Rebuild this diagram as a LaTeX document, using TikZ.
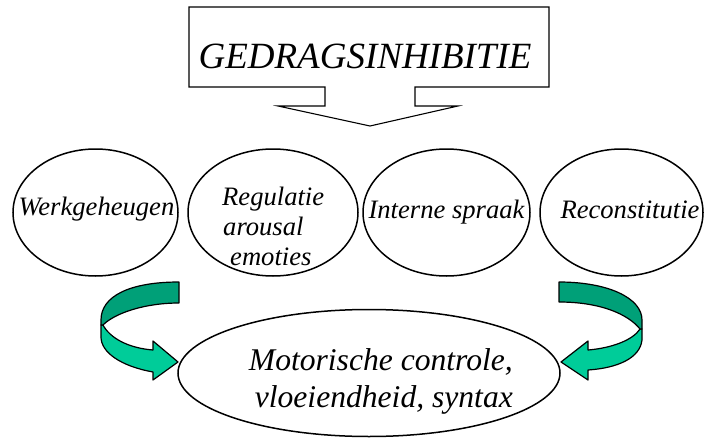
\documentclass[tikz,border=0pt]{standalone}
\usepackage{fontspec}
\setmainfont{Liberation Serif}
\usetikzlibrary{shapes.geometric}
\definecolor{dkgreen}{RGB}{0,160,120}
\definecolor{ltgreen}{RGB}{0,204,153}
\begin{document}
\begin{tikzpicture}[x=1pt,y=-1pt,
  oval/.style={draw, ellipse, line width=1.5pt, minimum height=127pt, inner sep=0pt},
  lbl/.style={font=\fontsize{26.6}{30}\selectfont\itshape, inner sep=0pt},
  bandline/.style={draw=black, line width=1.2pt, line join=round},
  calloutline/.style={draw=black, line width=1.1pt, line join=miter}]
\useasboundingbox (0,0) rectangle (715,439);

% callout
\draw[calloutline] (189,7) -- (549,7) -- (549,87) -- (415,87) -- (415,106) -- (458,106)
  -- (370,126) -- (278,106) -- (325,106) -- (325,87) -- (189,87) -- cycle;
\node[anchor=base, inner sep=0pt, font=\fontsize{37}{40}\selectfont\itshape] (title) at (365,68) {GEDRAGSINHIBITIE};

% four ellipses
\node[oval, minimum width=165pt] (wg) at (95.5,212.5) {};
\node[oval, minimum width=170pt] (ra) at (273,212.5) {};
\node[oval, minimum width=167pt] (is) at (446.5,212.5) {};
\node[oval, minimum width=163pt] (rc) at (621.5,212.5) {};

\node[lbl, anchor=base] (wgt) at (96.5,215) {Werkgeheugen};
\node[lbl, anchor=base west] (rat1) at (222,205) {Regulatie};
\node[lbl, anchor=base west] (rat2) at (223,235) {arousal};
\node[lbl, anchor=base west] (rat3) at (230,265) {emoties};
\node[lbl, anchor=base] (ist) at (446.5,218) {Interne spraak};
\node[lbl, anchor=base] (rct) at (630,218) {Reconstitutie};

% bottom ellipse
\node[oval, minimum width=382pt] (mc) at (369,373) {};
\node[anchor=base east, inner sep=0pt, align=right, font=\fontsize{31.6}{37}\selectfont\itshape] (mct) at (513,407) {Motorische controle,\\vloeiendheid, syntax};

% left curved arrow
\path[bandline, fill=ltgreen] (103,325) -- (101,325) -- (101,337)
  .. controls (101,352) and (120,366) .. (153,372) -- (153,380) -- (178,362)
  -- (153,341) -- (153,350) .. controls (128,348) and (110,338) .. (103,325) -- cycle;
\path[bandline, fill=dkgreen] (179,282) .. controls (130,282) and (101,296) .. (101,320)
  -- (101,325) -- (103,325) .. controls (115,313) and (145,303) .. (179,303) -- cycle;

% right curved arrow
\path[bandline, fill=ltgreen] (640,329) -- (642,329) -- (642,340)
  .. controls (640,358) and (618,368) .. (588,370) -- (588,380) -- (561,362)
  -- (588,341) -- (588,350) .. controls (612,348) and (633,340) .. (640,329) -- cycle;
\path[bandline, fill=dkgreen] (559,282) .. controls (608,282) and (642,298) .. (642,320)
  -- (642,329) -- (640,329) .. controls (628,314) and (600,302) .. (559,302) -- cycle;
\end{tikzpicture}
\end{document}
